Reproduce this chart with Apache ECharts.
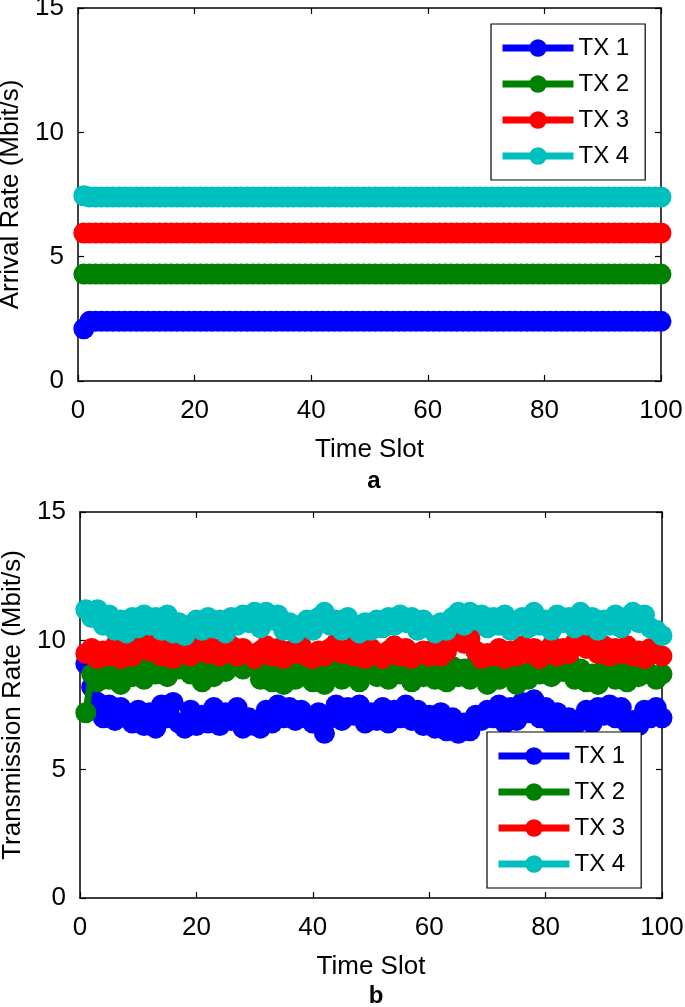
<!DOCTYPE html>
<html>
<head>
<meta charset="utf-8">
<script src="https://cdn.jsdelivr.net/npm/echarts@6/dist/echarts.min.js"></script>
<style>
html,body{margin:0;padding:0;background:#fff;}
#chart{width:685px;height:1007px;}
</style>
</head>
<body>
<div id="chart"></div>
<script>
// ---- data ----
const seriesNames = ['TX 1', 'TX 2', 'TX 3', 'TX 4'];
const seriesColors = ['#0000ff', '#008000', '#ff0000', '#00bfbf'];
const xTicks = [0, 20, 40, 60, 80, 100];
const yTicks = [0, 5, 10, 15];

// (a) arrival rate, time slots 1..100
const arrivalTX1 = [2.1,2.4,2.4,2.4,2.4,2.4,2.4,2.4,2.4,2.4, 2.4,2.4,2.4,2.4,2.4,2.4,2.4,2.4,2.4,2.4, 2.4,2.4,2.4,2.4,2.4,2.4,2.4,2.4,2.4,2.4, 2.4,2.4,2.4,2.4,2.4,2.4,2.4,2.4,2.4,2.4, 2.4,2.4,2.4,2.4,2.4,2.4,2.4,2.4,2.4,2.4, 2.4,2.4,2.4,2.4,2.4,2.4,2.4,2.4,2.4,2.4, 2.4,2.4,2.4,2.4,2.4,2.4,2.4,2.4,2.4,2.4, 2.4,2.4,2.4,2.4,2.4,2.4,2.4,2.4,2.4,2.4, 2.4,2.4,2.4,2.4,2.4,2.4,2.4,2.4,2.4,2.4, 2.4,2.4,2.4,2.4,2.4,2.4,2.4,2.4,2.4,2.4];
const arrivalTX2 = [4.3,4.3,4.3,4.3,4.3,4.3,4.3,4.3,4.3,4.3, 4.3,4.3,4.3,4.3,4.3,4.3,4.3,4.3,4.3,4.3, 4.3,4.3,4.3,4.3,4.3,4.3,4.3,4.3,4.3,4.3, 4.3,4.3,4.3,4.3,4.3,4.3,4.3,4.3,4.3,4.3, 4.3,4.3,4.3,4.3,4.3,4.3,4.3,4.3,4.3,4.3, 4.3,4.3,4.3,4.3,4.3,4.3,4.3,4.3,4.3,4.3, 4.3,4.3,4.3,4.3,4.3,4.3,4.3,4.3,4.3,4.3, 4.3,4.3,4.3,4.3,4.3,4.3,4.3,4.3,4.3,4.3, 4.3,4.3,4.3,4.3,4.3,4.3,4.3,4.3,4.3,4.3, 4.3,4.3,4.3,4.3,4.3,4.3,4.3,4.3,4.3,4.3];
const arrivalTX3 = [5.95,5.95,5.95,5.95,5.95,5.95,5.95,5.95,5.95,5.95, 5.95,5.95,5.95,5.95,5.95,5.95,5.95,5.95,5.95,5.95, 5.95,5.95,5.95,5.95,5.95,5.95,5.95,5.95,5.95,5.95, 5.95,5.95,5.95,5.95,5.95,5.95,5.95,5.95,5.95,5.95, 5.95,5.95,5.95,5.95,5.95,5.95,5.95,5.95,5.95,5.95, 5.95,5.95,5.95,5.95,5.95,5.95,5.95,5.95,5.95,5.95, 5.95,5.95,5.95,5.95,5.95,5.95,5.95,5.95,5.95,5.95, 5.95,5.95,5.95,5.95,5.95,5.95,5.95,5.95,5.95,5.95, 5.95,5.95,5.95,5.95,5.95,5.95,5.95,5.95,5.95,5.95, 5.95,5.95,5.95,5.95,5.95,5.95,5.95,5.95,5.95,5.95];
const arrivalTX4 = [7.45,7.4,7.4,7.4,7.4,7.4,7.4,7.4,7.4,7.4, 7.4,7.4,7.4,7.4,7.4,7.4,7.4,7.4,7.4,7.4, 7.4,7.4,7.4,7.4,7.4,7.4,7.4,7.4,7.4,7.4, 7.4,7.4,7.4,7.4,7.4,7.4,7.4,7.4,7.4,7.4, 7.4,7.4,7.4,7.4,7.4,7.4,7.4,7.4,7.4,7.4, 7.4,7.4,7.4,7.4,7.4,7.4,7.4,7.4,7.4,7.4, 7.4,7.4,7.4,7.4,7.4,7.4,7.4,7.4,7.4,7.4, 7.4,7.4,7.4,7.4,7.4,7.4,7.4,7.4,7.4,7.4, 7.4,7.4,7.4,7.4,7.4,7.4,7.4,7.4,7.4,7.4, 7.4,7.4,7.4,7.4,7.4,7.4,7.4,7.4,7.4,7.4];

// (b) transmission rate, time slots 1..100
const transTX1 = [9.1,8.2,7.6,7.0,7.5,6.9,7.4,7.1,6.8,7.3, 6.7,7.2,6.6,7.5,7.0,7.6,6.8,6.6,7.3,6.7, 7.1,6.8,7.4,6.7,7.2,6.9,7.4,6.6,7.0,6.7, 6.6,7.3,6.8,7.5,7.0,7.4,6.9,7.3,7.0,6.8, 7.2,6.4,7.0,7.5,6.9,7.4,7.1,7.5,6.8,7.2, 6.9,7.4,6.8,7.3,7.0,7.5,6.9,7.3,6.7,7.1, 6.6,7.2,6.5,7.0,6.4,6.8,6.5,7.1,6.9,7.3, 7.0,7.5,6.8,7.4,6.9,7.6,7.2,7.7,7.0,7.4, 6.8,7.2,6.7,7.0,6.7,6.9,7.3,6.8,7.4,7.1, 7.5,7.0,7.4,6.8,6.9,6.7,7.3,7.0,7.4,7.0];
const transTX2 = [7.2,8.7,8.4,9.1,8.5,8.9,8.3,8.8,8.6,9.0, 8.5,9.2,8.7,9.1,8.6,9.3,8.9,9.2,8.7,9.0, 8.4,8.9,8.6,9.1,8.8,9.0,9.1,8.9,9.2,9.0, 8.5,8.9,8.4,8.8,8.3,8.7,8.5,9.0,8.6,8.4, 8.9,8.3,8.7,9.0,8.5,8.8,9.1,8.4,8.7,8.9, 8.6,9.0,8.5,9.2,8.7,9.0,8.4,8.9,8.6,9.1, 8.5,8.8,8.4,9.0,8.6,8.9,8.5,9.1,8.6,8.3, 8.8,8.5,9.0,8.6,8.3,8.7,8.5,9.0,8.7,9.2, 8.6,9.0,8.8,9.2,8.5,8.9,8.4,8.7,8.3,8.9, 9.1,8.5,8.8,8.4,9.0,8.6,9.2,8.7,8.5,8.7];
const transTX3 = [9.5,9.7,9.3,9.6,9.4,9.8,9.3,9.6,9.4,9.9, 10.1,9.6,10.0,9.4,9.7,9.3,9.6,9.8,9.4,9.9, 10.0,9.5,9.7,9.4,9.6,9.8,9.4,9.7,9.5,9.3, 9.6,9.8,9.4,9.7,9.3,9.6,9.5,9.8,9.4,9.3, 9.6,9.4,9.7,9.9,9.5,9.8,9.4,9.6,9.3,9.7, 9.5,9.3,9.6,9.8,9.4,9.7,9.3,9.5,9.6,9.4, 9.7,9.4,9.6,10.0,10.2,9.9,10.1,9.6,9.3,9.5, 9.4,9.7,9.3,9.6,9.4,9.8,9.5,9.7,9.3,9.6, 9.8,9.4,9.7,9.5,9.9,10.1,9.7,10.0,9.5,9.8, 9.4,9.7,9.5,9.8,9.4,9.6,9.3,9.7,9.5,9.4];
const transTX4 = [11.2,10.9,11.2,10.6,11.0,10.4,10.8,10.3,10.9,10.5, 11.0,10.6,10.9,10.4,11.0,10.3,10.7,10.2,10.6,10.8, 10.4,10.9,10.5,10.8,10.3,10.9,10.6,11.0,10.7,11.1, 10.5,11.1,10.8,11.0,10.4,10.7,10.3,10.6,10.8,10.4, 10.9,11.1,10.6,10.8,10.4,10.9,10.5,10.3,10.7,10.4, 10.8,10.5,10.9,10.6,11.0,10.7,10.9,10.4,10.8,10.5, 10.3,10.7,10.4,10.9,11.1,10.6,11.1,10.8,11.0,10.5, 10.9,10.6,11.0,10.4,10.7,10.9,10.5,11.1,10.6,10.8, 10.4,11.0,10.7,10.9,10.5,11.1,10.6,10.9,10.4,10.8, 10.6,11.0,10.5,10.9,11.1,10.7,11.0,10.5,10.4,10.2];

const arrivalData = [arrivalTX1, arrivalTX2, arrivalTX3, arrivalTX4];
const transData = [transTX1, transTX2, transTX3, transTX4];

// ---- chart ----
const FONT = "'Liberation Sans', Arial, Helvetica, sans-serif";
const chart = echarts.init(document.getElementById('chart'), null, {renderer: 'canvas'});

function pairs(arr) { return arr.map((v, i) => [i + 1, v]); }

const grids = [
  {left: 78, top: 8, width: 583, height: 373, containLabel: false, outerBoundsMode: 'none'},
  {left: 80, top: 512, width: 582, height: 386, containLabel: false, outerBoundsMode: 'none'}
];

function xAxes(gi) {
  return [
    {gridIndex: gi, type: 'value', min: 0, max: 100, interval: 20, position: 'bottom',
     name: 'Time Slot', nameLocation: 'middle', nameGap: 56,
     nameTextStyle: {fontFamily: FONT, fontSize: 26, color: '#000'},
     axisLine: {show: true, onZero: false, lineStyle: {color: '#000', width: 1.5}},
     axisTick: {show: true, inside: true, length: 6, lineStyle: {color: '#000', width: 1.2}},
     axisLabel: {fontFamily: FONT, fontSize: 26, color: '#000', margin: 17},
     splitLine: {show: false}},
    {gridIndex: gi, type: 'value', min: 0, max: 100, interval: 20, position: 'top',
     axisLine: {show: true, onZero: false, lineStyle: {color: '#000', width: 1.5}},
     axisTick: {show: true, inside: true, length: 6, lineStyle: {color: '#000', width: 1.2}},
     axisLabel: {show: false}, splitLine: {show: false}}
  ];
}
function yAxes(gi, name) {
  return [
    {gridIndex: gi, type: 'value', min: 0, max: 15, interval: 5, position: 'left',
     name: name, nameLocation: 'middle', nameGap: 52, nameRotate: 90,
     nameTextStyle: {fontFamily: FONT, fontSize: 26, color: '#000'},
     axisLine: {show: true, onZero: false, lineStyle: {color: '#000', width: 1.5}},
     axisTick: {show: true, inside: true, length: 6, lineStyle: {color: '#000', width: 1.2}},
     axisLabel: {fontFamily: FONT, fontSize: 26, color: '#000', margin: 14},
     splitLine: {show: false}},
    {gridIndex: gi, type: 'value', min: 0, max: 15, interval: 5, position: 'right',
     axisLine: {show: true, onZero: false, lineStyle: {color: '#000', width: 1.5}},
     axisTick: {show: true, inside: true, length: 6, lineStyle: {color: '#000', width: 1.2}},
     axisLabel: {show: false}, splitLine: {show: false}}
  ];
}

const series = [];
seriesNames.forEach((n, i) => {
  series.push({name: n, type: 'line', xAxisIndex: 0, yAxisIndex: 0, data: pairs(arrivalData[i]),
    symbol: 'circle', symbolSize: 21, showAllSymbol: true, color: seriesColors[i],
    lineStyle: {width: 7, color: seriesColors[i]}, itemStyle: {color: seriesColors[i]},
    animation: false, z: 2 + i});
});
seriesNames.forEach((n, i) => {
  series.push({name: n, type: 'line', xAxisIndex: 2, yAxisIndex: 2, data: pairs(transData[i]),
    symbol: 'circle', symbolSize: 21, showAllSymbol: true, color: seriesColors[i],
    lineStyle: {width: 7, color: seriesColors[i]}, itemStyle: {color: seriesColors[i]},
    animation: false, z: 2 + i});
});

const legendBase = {
  orient: 'vertical', data: seriesNames, itemWidth: 71, itemHeight: 22, itemGap: 12,
  backgroundColor: '#fff', borderColor: '#000', borderWidth: 1.2,
  padding: [12, 16, 12, 8],
  lineStyle: {width: 7},
  textStyle: {fontFamily: FONT, fontSize: 24, lineHeight: 22, color: '#000'},
  selectedMode: false, z: 10
};

chart.setOption({
  animation: false,
  backgroundColor: '#fff',
  textStyle: {fontFamily: FONT},
  grid: grids,
  xAxis: [...xAxes(0), ...xAxes(1)],
  yAxis: [...yAxes(0, 'Arrival Rate (Mbit/s)'), ...yAxes(1, 'Transmission Rate (Mbit/s)')],
  legend: [
    Object.assign({}, legendBase, {left: 491, top: 24}),
    Object.assign({}, legendBase, {left: 487, top: 732})
  ],
  title: [
    {text: 'a', left: 369, top: 464, textAlign: 'center',
     textStyle: {fontFamily: FONT, fontSize: 24, fontWeight: 'bold', color: '#000'}},
    {text: 'b', left: 371, top: 979, textAlign: 'center',
     textStyle: {fontFamily: FONT, fontSize: 24, fontWeight: 'bold', color: '#000'}}
  ],
  series: series
});
</script>
</body>
</html>
